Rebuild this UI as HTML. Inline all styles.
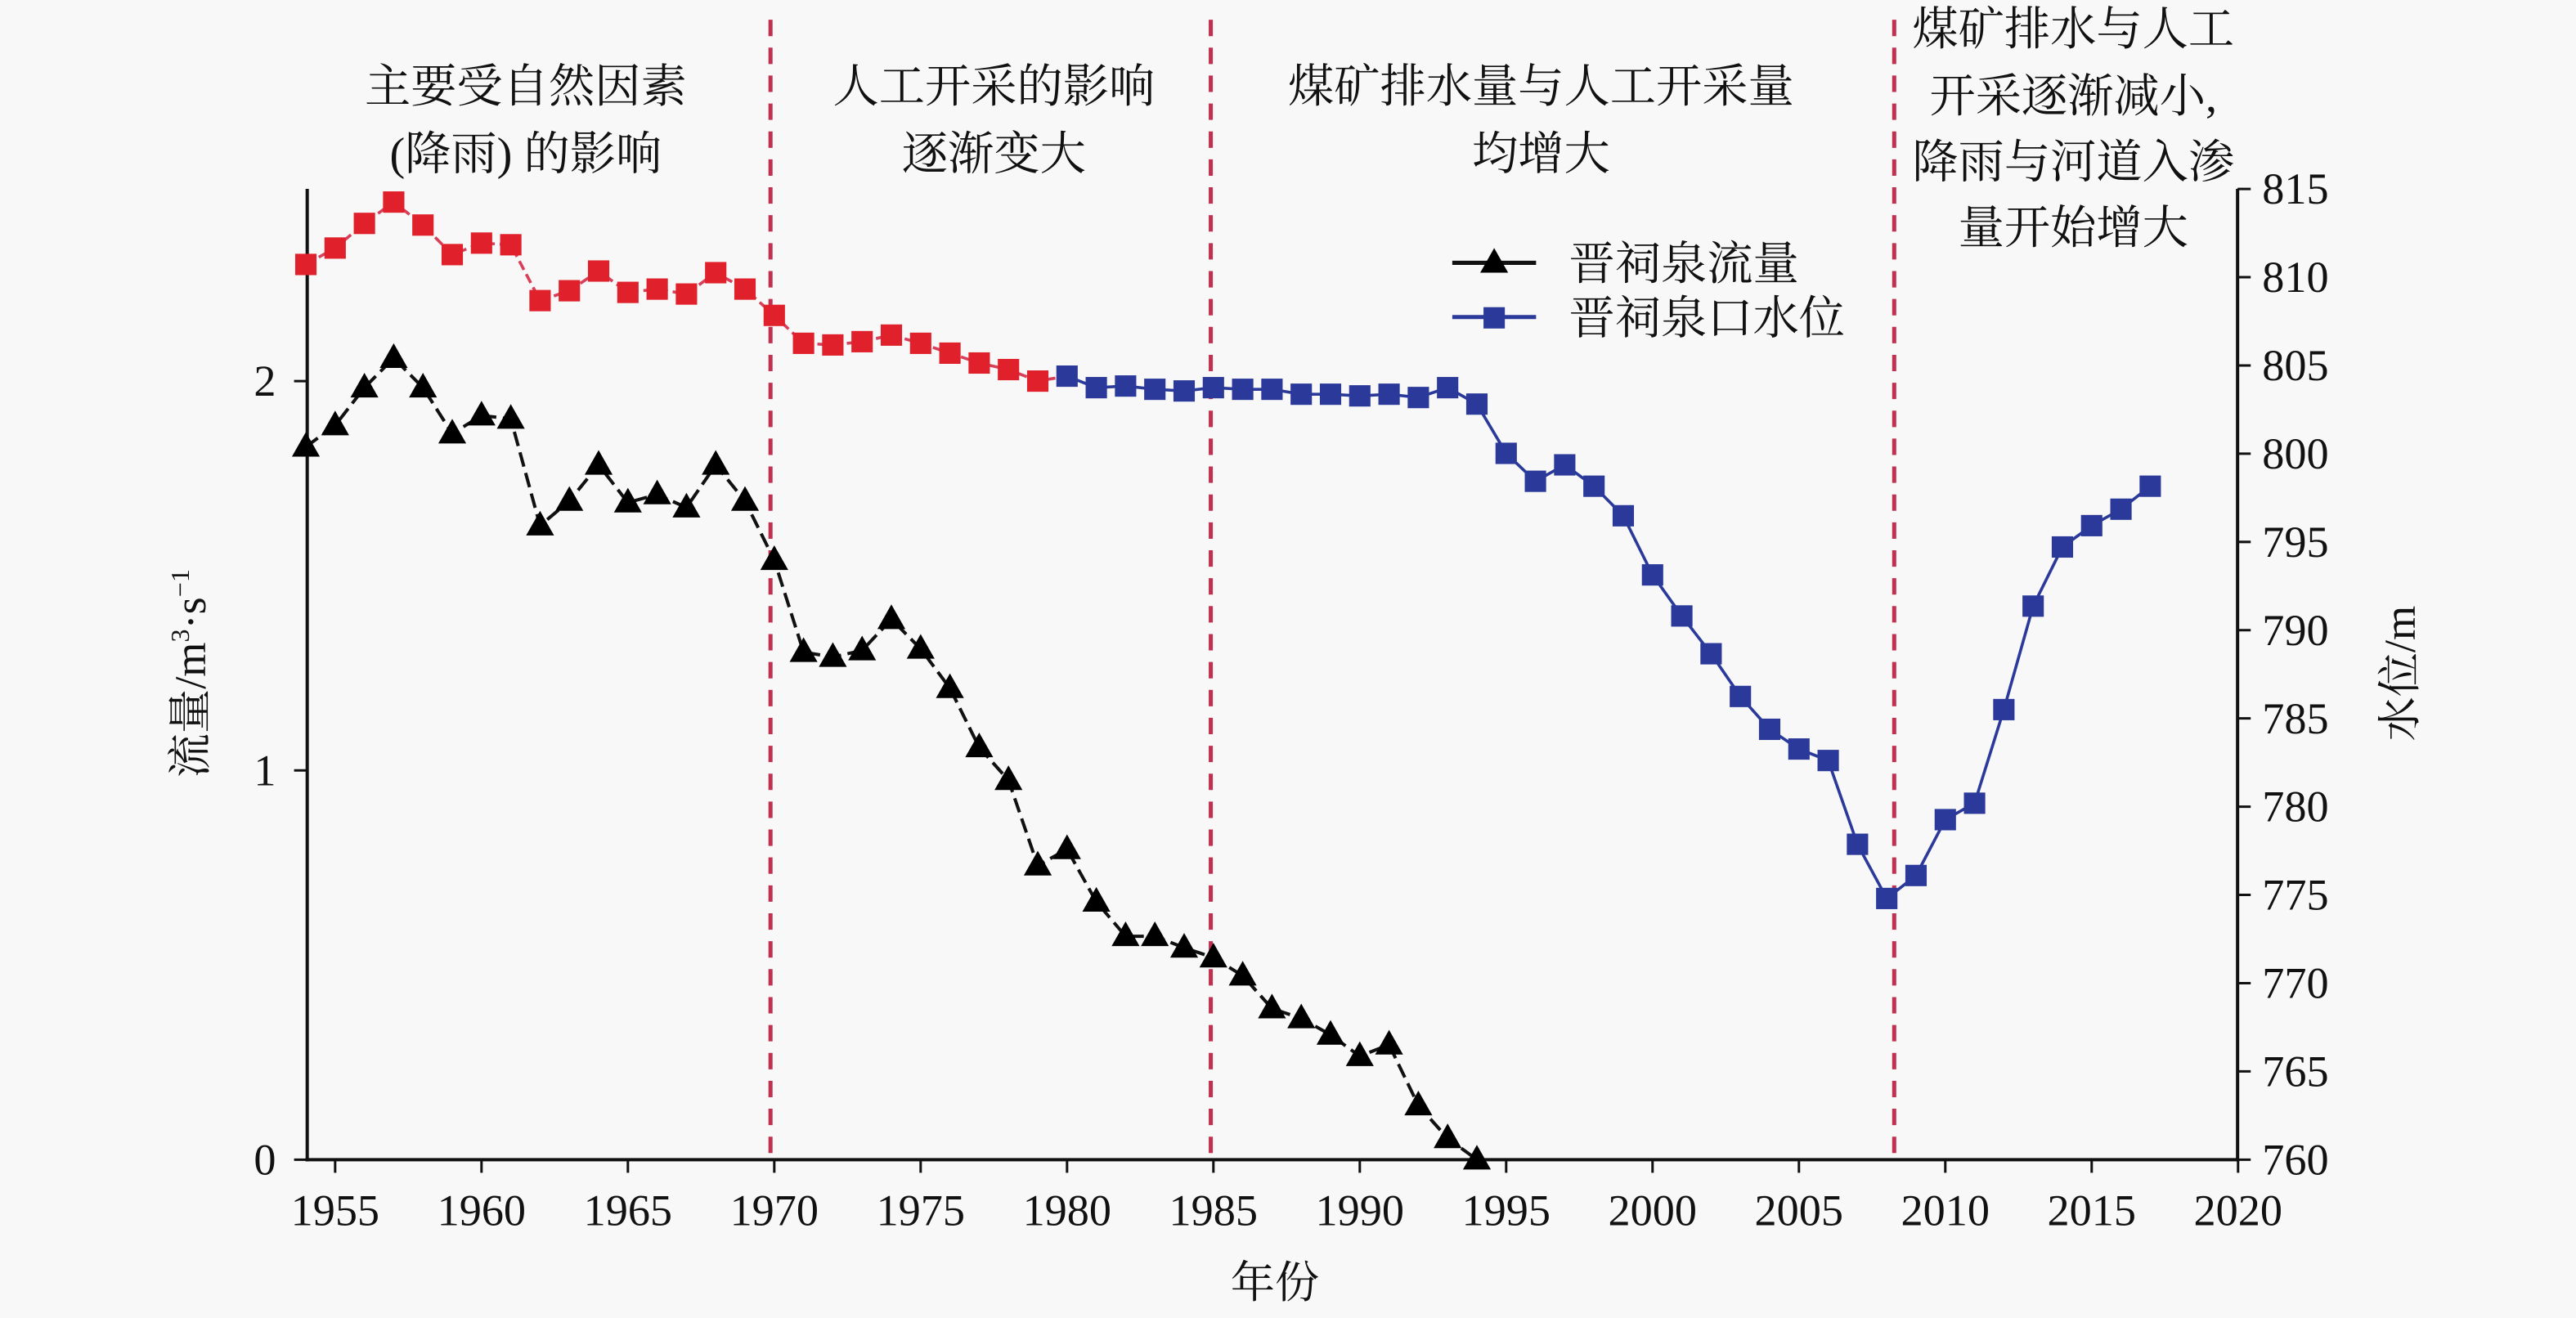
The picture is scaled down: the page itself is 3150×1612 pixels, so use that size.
<!DOCTYPE html>
<html><head><meta charset="utf-8"><style>
html,body{margin:0;padding:0;background:#f8f8f8;}
svg{display:block;}
text{font-family:"Liberation Serif","Noto Serif CJK SC",serif;fill:#111;}
</style></head><body>
<svg id="s" width="3150" height="1612" viewBox="0 0 1568 802.4" xmlns="http://www.w3.org/2000/svg">
<rect width="1568" height="802.4" fill="#f8f8f8"/>
<g font-size="28" text-anchor="middle">
<text x="320" y="62">主要受自然因素</text>
<text x="320" y="103">(降雨) 的影响</text>
<text x="605" y="62">人工开采的影响</text>
<text x="605" y="103">逐渐变大</text>
<text x="938" y="62">煤矿排水量与人工开采量</text>
<text x="938" y="103">均增大</text>
<text x="1262" y="27">煤矿排水与人工</text>
<text x="1262" y="68">开采逐渐减小,</text>
<text x="1262" y="108">降雨与河道入渗</text>
<text x="1262" y="148">量开始增大</text>
</g>
<g stroke="#c0304f" stroke-width="2.5" stroke-dasharray="10,7">
<line x1="469" y1="12" x2="469" y2="706"/>
<line x1="737" y1="12" x2="737" y2="706"/>
<line x1="1153" y1="12" x2="1153" y2="706"/>
</g>
<g stroke="#111" stroke-width="2" fill="none">
<line x1="187" y1="115" x2="187" y2="707"/>
<line x1="186" y1="706" x2="1362" y2="706"/>
<line x1="1362" y1="115" x2="1362" y2="707"/>
</g>
<g id="ticks" stroke="#111" stroke-width="1.5"></g>
<g id="tl" font-size="27"></g>
<text x="776" y="790" font-size="27" text-anchor="middle">年份</text>
<text transform="translate(125,410) rotate(-90)" font-size="27" text-anchor="middle">流量/m<tspan font-size="16" dy="-10">3</tspan><tspan dy="10">·s</tspan><tspan font-size="16" dy="-10">−1</tspan></text>
<text transform="translate(1470,410) rotate(-90)" font-size="27" text-anchor="middle">水位/m</text>
<g id="series"></g>
<g>
<line x1="884" y1="160" x2="935" y2="160" stroke="#111" stroke-width="2.5"/>
<polygon points="909.5,151 918,166 901,166" fill="#000"/>
<text x="955" y="170" font-size="28">晋祠泉流量</text>
<line x1="884" y1="193" x2="935" y2="193" stroke="#2b3a9a" stroke-width="2.5"/>
<rect x="903" y="187" width="13" height="13" fill="#2b3a9a"/>
<text x="955" y="203" font-size="28">晋祠泉口水位</text>
</g>
</svg>
<script>
const NS="http://www.w3.org/2000/svg";
function el(p,t,a,txt){const e=document.createElementNS(NS,t);for(const k in a)e.setAttribute(k,a[k]);if(txt!==undefined)e.textContent=txt;document.getElementById(p).appendChild(e);return e;}
const X=y=>204+(y-1955)*17.82;
for(let y=1955;y<=2020;y+=5){const x=X(y);el("ticks","line",{x1:x,y1:706,x2:x,y2:714});el("tl","text",{x:x,y:746,"text-anchor":"middle"},y);}
[[0,706],[1,469],[2,232]].forEach(([v,yy])=>{el("ticks","line",{x1:179,y1:yy,x2:187,y2:yy});el("tl","text",{x:168,y:yy+9,"text-anchor":"end"},v);});
for(let v=760;v<=815;v+=5){const yy=706-(v-760)*10.745;el("ticks","line",{x1:1362,y1:yy,x2:1370,y2:yy});el("tl","text",{x:1377,y:yy+9},v);}
const flow=[272,259,236,218,236,264,253,255,320,305,283,306,301,309,283,305,341,397,400,396,377,395,419,455,475,527,517,549,570,570,577,583,594,614,620,630,643,636,673,693,706];
const lvl=[161,151,136,123,137,155,148,149,183,177,165,178,176,179,166,176,192,209,210,208,204,209,215,221,225,232,229,236,235,237,238,236,237,237,240,240,241,240,242,236,246,276,293,283,296,314,350,375,398,424,444,456,463,514,547,533,499,489,432,369,333,320,310,296];
let pr=lvl.slice(0,27).map((v,i)=>X(1954+i)+","+v).join(" ");
el("series","polyline",{points:pr,fill:"none",stroke:"#d8405a","stroke-width":1.8,"stroke-dasharray":"6,3"});
let pb=lvl.slice(26).map((v,i)=>X(1980+i)+","+v).join(" ");
el("series","polyline",{points:pb,fill:"none",stroke:"#2b3a9a","stroke-width":1.8});
lvl.forEach((v,i)=>{const yr=1954+i;el("series","rect",{x:X(yr)-6.5,y:v-6.5,width:13,height:13,fill:yr<=1979?"#e0202a":"#2b3a9a"});});
let pf=flow.map((v,i)=>X(1954+i)+","+v).join(" ");
el("series","polyline",{points:pf,fill:"none",stroke:"#111","stroke-width":2,"stroke-dasharray":"9,4"});
flow.forEach((v,i)=>{const x=X(1954+i);el("series","polygon",{points:`${x},${v-9} ${x+8.5},${v+6} ${x-8.5},${v+6}`,fill:"#000"});});
</script>
</body></html>
